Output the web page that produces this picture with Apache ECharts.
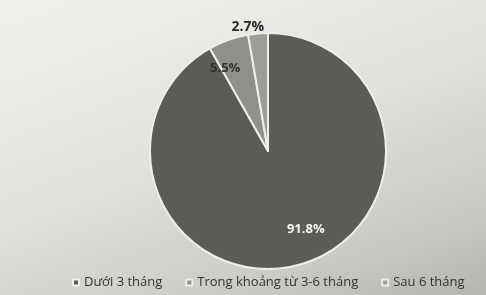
<!DOCTYPE html>
<html>
<head>
<meta charset="utf-8">
<script src="https://cdn.jsdelivr.net/npm/echarts@6/dist/echarts.min.js"></script>
<style>
html,body{margin:0;padding:0;}
body{width:486px;height:295px;background:linear-gradient(160deg,#f1f2ee 0%,#e2e3df 45%,#c9cbc5 80%,#b3b5ae 100%);}
#chart{width:486px;height:295px;}
</style>
</head>
<body>
<div id="chart"></div>
<script>
var categories = ['Dưới 3 tháng', 'Trong khoảng từ 3-6 tháng', 'Sau 6 tháng'];
var values = [91.8, 5.5, 2.7];
var colors = ['#5b5c58', '#8e908a', '#9c9d98'];
var labelColors = ['#f4f4f2', '#333333', '#2a2a2a'];
var labelShift = [[22, 18], [-22, -24], [-15, -62]];

var chart = echarts.init(document.getElementById('chart'), null, {renderer: 'canvas'});
chart.setOption({
  backgroundColor: 'transparent',
  animation: false,
  legend: {
    bottom: 1,
    left: 67,
    itemWidth: 6,
    itemHeight: 6,
    itemGap: 23,
    icon: 'rect',
    textStyle: {fontFamily: 'Open Sans', fontSize: 13, color: '#333'},
    data: categories
  },
  series: [{
    type: 'pie',
    center: [268, 151],
    radius: [0, 118],
    startAngle: 90,
    clockwise: true,
    itemStyle: {borderColor: '#eeeeea', borderWidth: 2},
    label: {
      show: true,
      position: 'inside',
      formatter: function (p) { return p.value.toFixed(1) + '%'; },
      fontFamily: 'Open Sans',
      fontWeight: 'bold',
      fontSize: 13
    },
    labelLine: {show: false},
    labelLayout: function (p) {
      var s = labelShift[p.dataIndex];
      return {dx: s[0], dy: s[1]};
    },
    emphasis: {disabled: true},
    data: categories.map(function (c, i) {
      return {
        name: c,
        value: values[i],
        itemStyle: {color: colors[i]},
        label: {color: labelColors[i], fontSize: i === 2 ? 14 : 13}
      };
    })
  }]
});
</script>
</body>
</html>
